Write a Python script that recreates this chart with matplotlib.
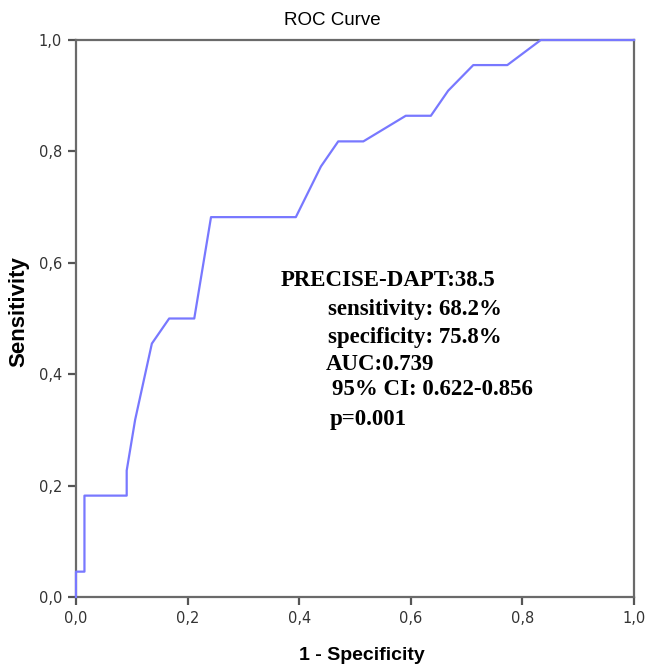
import matplotlib.pyplot as plt
from matplotlib.ticker import FuncFormatter

# ROC points (1 - specificity, sensitivity)
fpr = [0.0, 0.0, 0.0152, 0.0152, 0.0909, 0.0909, 0.106, 0.136, 0.167, 0.212,
       0.242, 0.394, 0.439, 0.470, 0.515, 0.591, 0.636, 0.667, 0.712, 0.773,
       0.833, 1.0]
tpr = [0.0, 0.0455, 0.0455, 0.182, 0.182, 0.227, 0.318, 0.455, 0.5, 0.5,
       0.682, 0.682, 0.773, 0.818, 0.818, 0.864, 0.864, 0.909, 0.955, 0.955,
       1.0, 1.0]

ticks = [0.0, 0.2, 0.4, 0.6, 0.8, 1.0]
note_lines = ["PRECISE-DAPT:38.5", "sensitivity: 68.2%", "specificity: 75.8%",
              "AUC:0.739", "95% CI: 0.622-0.856", "p=0.001"]
note_x = [0.366, 0.452, 0.452, 0.448, 0.459, 0.455]
note_y = [0.569, 0.517, 0.465, 0.418, 0.372, 0.318]

fig = plt.figure(figsize=(6.46, 6.68), dpi=100)
ax = fig.add_axes([0.1176, 0.1063, 0.8638, 0.8338])

ax.plot(fpr, tpr, color='#7878ff', lw=1.6, clip_on=False, zorder=3)

ax.set_xlim(0, 1)
ax.set_ylim(0, 1)
ax.set_xticks(ticks)
ax.set_yticks(ticks)
fmt = FuncFormatter(lambda v, p: f'{v:.1f}'.replace('.', ','))
ax.xaxis.set_major_formatter(fmt)
ax.yaxis.set_major_formatter(fmt)

for s in ax.spines.values():
    s.set_color('#6a6a6a')
    s.set_linewidth(1.6)
ax.tick_params(direction='out', length=6, width=1.6, color='#555555',
               labelsize=10.5, labelcolor='#333333', pad=4)

ax.set_title('ROC Curve', fontsize=13.5, fontfamily='Liberation Sans',
             x=0.46, pad=11)
ax.set_xlabel('1 - Specificity', fontsize=14, fontweight='bold',
              fontfamily='Liberation Sans')
ax.set_ylabel('Sensitivity', fontsize=16, fontweight='bold',
              fontfamily='Liberation Sans')
ax.xaxis.set_label_coords(0.513, -0.09)
ax.yaxis.set_label_coords(-0.083, 0.512)

for txt, x, y in zip(note_lines, note_x, note_y):
    ax.text(x, y, txt, fontsize=16.5, fontweight='bold',
            fontfamily='Liberation Serif', va='center', ha='left')

plt.savefig('out.png', dpi=100)
plt.close()
